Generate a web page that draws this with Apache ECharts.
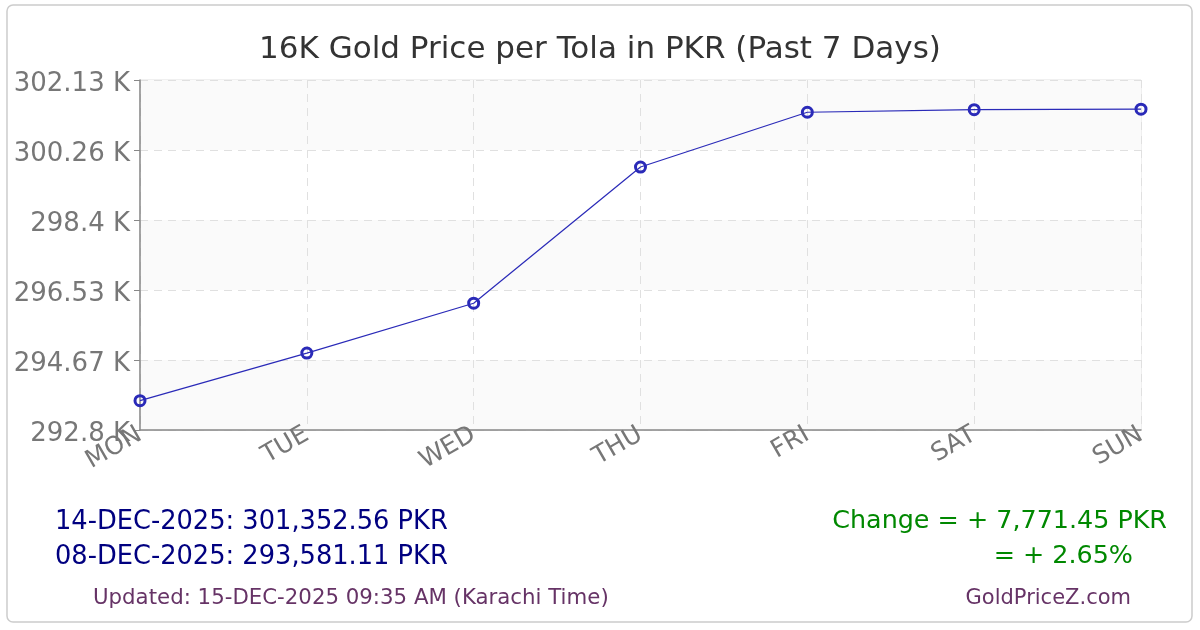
<!DOCTYPE html>
<html>
<head>
<meta charset="utf-8">
<script src="https://cdn.jsdelivr.net/npm/echarts@6/dist/echarts.min.js"></script>
<style>
  html, body { margin: 0; padding: 0; background: #fff; }
  #panel { width: 1200px; height: 630px; }
</style>
</head>
<body>
<div id="panel"></div>
<script>
// past 7 days, 16K gold per tola (PKR)
var days = ['MON', 'TUE', 'WED', 'THU', 'FRI', 'SAT', 'SUN'];
var prices = [293581.11, 294850, 296180, 299810, 301270, 301340, 301352.56];
var firstDate = '08-DEC-2025';
var lastDate = '14-DEC-2025';
var updated = 'Updated: 15-DEC-2025 09:35 AM (Karachi Time)';
var yMin = 292800;
var yMax = 302130;
var yStep = 1866;

function fmt(n) {
    return n.toLocaleString('en-US', { minimumFractionDigits: 2, maximumFractionDigits: 2 });
}

var first = prices[0];
var last = prices[prices.length - 1];
var diff = last - first;
var pct = diff / first * 100;
var sign = diff >= 0 ? '+ ' : '- ';
var font = 'DejaVu Sans, Verdana, sans-serif';

var myChart = echarts.init(document.getElementById('panel'));
myChart.setOption({
    backgroundColor: '#fff',
    animation: false,
    title: {
        text: '16K Gold Price per Tola in PKR (Past 7 Days)',
        left: 'center',
        top: 29,
        textStyle: { fontFamily: font, fontSize: 31, fontWeight: 'normal', color: '#333' }
    },
    grid: {
        left: 140, right: 59, top: 80, bottom: 200,
        show: true, borderColor: '#e0e0e0', borderWidth: 1
    },
    xAxis: {
        type: 'category',
        data: days,
        boundaryGap: false,
        axisLine: { lineStyle: { color: '#888', width: 1.5 } },
        axisTick: { show: false },
        axisLabel: {
            rotate: 30, margin: 3,
            fontFamily: font, fontSize: 25, color: '#777'
        },
        splitLine: { show: true, lineStyle: { color: '#e0e0e0', type: [8, 6] } }
    },
    yAxis: {
        type: 'value',
        min: yMin, max: yMax, interval: yStep,
        axisLine: { show: true, lineStyle: { color: '#888', width: 1.5 } },
        axisTick: { show: true, length: 6, lineStyle: { color: '#888' } },
        axisLabel: {
            margin: 10, verticalAlign: 'top', lineHeight: 8,
            fontFamily: font, fontSize: 26, color: '#777',
            formatter: function (v) { return parseFloat((v / 1000).toFixed(2)) + ' K'; }
        },
        splitLine: { show: true, lineStyle: { color: '#e0e0e0', type: [8, 6] } },
        splitArea: { show: true, areaStyle: { color: ['#fafafa', '#ffffff'] } }
    },
    series: [{
        type: 'line',
        data: prices,
        clip: false,
        symbol: 'circle',
        symbolSize: 10,
        lineStyle: { color: '#2a2ab8', width: 1.2 },
        itemStyle: { color: 'rgba(0,0,0,0)', borderColor: '#2a2ab8', borderWidth: 3 }
    }],
    graphic: [
        {
            type: 'rect', shape: { x: 7, y: 5, width: 1185, height: 617, r: 6 },
            style: { fill: 'none', stroke: '#cccccc', lineWidth: 1.5 }, z: -1
        },
        {
            type: 'text', left: 55, top: 509,
            style: { text: lastDate + ': ' + fmt(last) + ' PKR', font: '25.7px ' + font, fill: '#000080' }
        },
        {
            type: 'text', left: 55, top: 544,
            style: { text: firstDate + ': ' + fmt(first) + ' PKR', font: '25.7px ' + font, fill: '#000080' }
        },
        {
            type: 'text', right: 33, top: 509,
            style: { text: 'Change = ' + sign + fmt(Math.abs(diff)) + ' PKR', font: '25.4px ' + font, fill: '#008800' }
        },
        {
            type: 'text', right: 67, top: 544,
            style: { text: '= ' + sign + Math.abs(pct).toFixed(2) + '%', font: '25.4px ' + font, fill: '#008800' }
        },
        {
            type: 'text', left: 93, top: 588,
            style: { text: updated, font: '21.3px ' + font, fill: '#663366' }
        },
        {
            type: 'text', right: 69, top: 588,
            style: { text: 'GoldPriceZ.com', font: '21px ' + font, fill: '#663366' }
        }
    ]
});
</script>
</body>
</html>
